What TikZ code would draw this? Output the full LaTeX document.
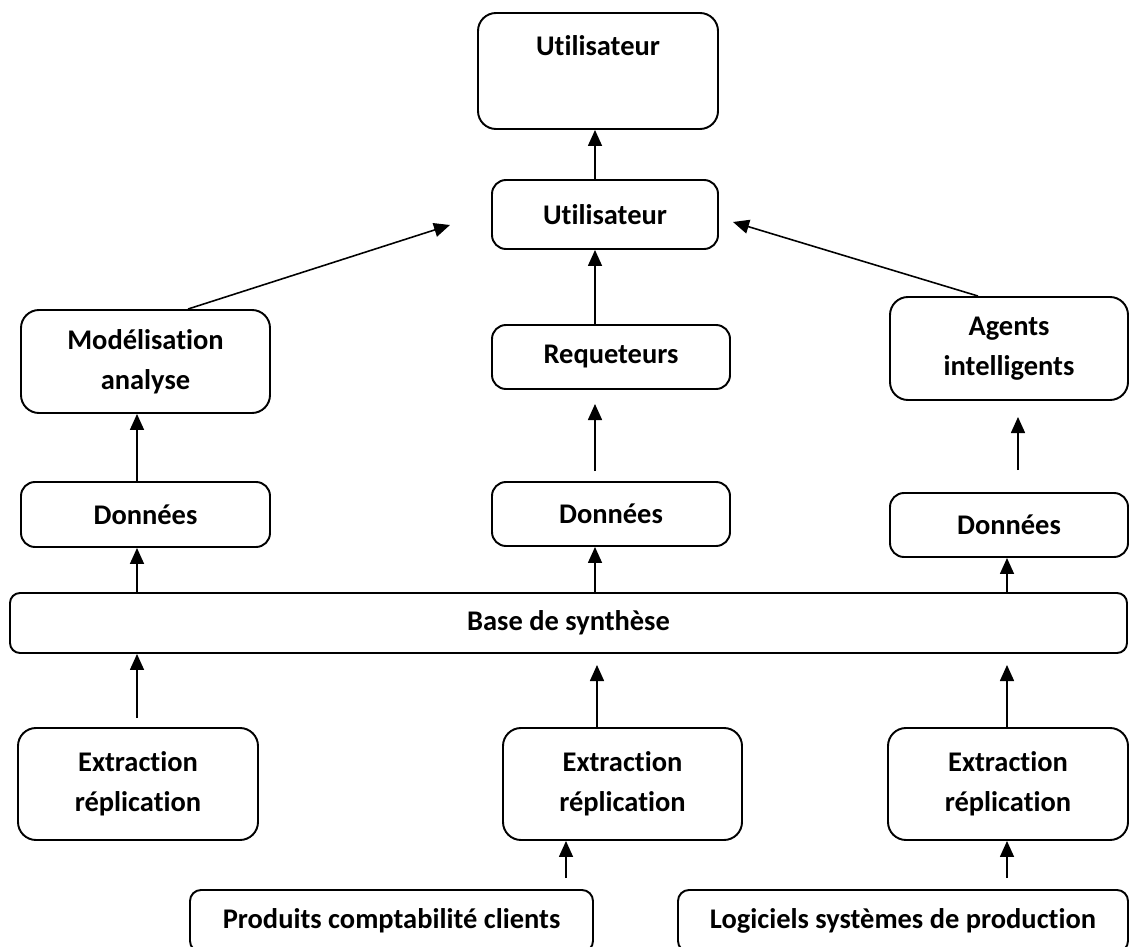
\documentclass[tikz,border=0pt]{standalone}
\usepackage{fontspec}
\setmainfont{Carlito}[Ligatures=NoCommon]
\usetikzlibrary{arrows.meta}

\begin{document}
\begin{tikzpicture}[
		box/.style={draw, line width=1.1pt, rounded corners=0.28cm, align=center, inner sep=0pt, font=\bfseries\fontsize{16.2}{22.8}\selectfont},
		bigbox/.style={box, rounded corners=0.36cm},
		arr/.style={line width=0.9pt, -{Triangle[width=0.28cm,length=0.32cm]}}
	]
			%%%%% START %%%%%
			
			\useasboundingbox (0,0) rectangle (22.68,-18.94);
			\clip (0,0) rectangle (22.68,-18.94);
			
			\node[bigbox, minimum width=4.8cm, minimum height=2.32cm, text height=0.4cm, text depth=1.0cm] (user) at (11.96,-1.42) {Utilisateur};
			\node[box, minimum width=4.52cm, minimum height=1.38cm] (util) at (12.1,-4.29) {Utilisateur};
			
			\node[bigbox, minimum width=4.98cm, minimum height=2.06cm] (model) at (2.91,-7.23) {Modélisation\\analyse};
			\node[box, minimum width=4.76cm, minimum height=1.28cm] (req) at (12.22,-7.14) {Requeteurs};
			\node[bigbox, minimum width=4.76cm, minimum height=2.06cm] (agents) at (20.18,-6.97) {Agents\\intelligents};
			
			\node[box, minimum width=4.98cm, minimum height=1.3cm] (donL) at (2.91,-10.29) {Données};
			\node[box, minimum width=4.76cm, minimum height=1.28cm] (donM) at (12.22,-10.28) {Données};
			\node[box, minimum width=4.76cm, minimum height=1.28cm] (donR) at (20.18,-10.5) {Données};
			
			\node[box, rounded corners=0.2cm, minimum width=22.34cm, minimum height=1.2cm] (base) at (11.37,-12.46) {Base de synthèse};
			
			\node[bigbox, minimum width=4.8cm, minimum height=2.24cm] (extL) at (2.76,-15.68) {Extraction\\réplication};
			\node[bigbox, minimum width=4.78cm, minimum height=2.24cm] (extM) at (12.45,-15.68) {Extraction\\réplication};
			\node[bigbox, minimum width=4.8cm, minimum height=2.24cm] (extR) at (20.16,-15.68) {Extraction\\réplication};
			
			\node[box, rounded corners=0.22cm, minimum width=8.06cm, minimum height=1.24cm] (prod) at (7.83,-18.42) {Produits comptabilité clients};
			\node[box, rounded corners=0.22cm, minimum width=9.0cm, minimum height=1.24cm] (logi) at (18.06,-18.42) {Logiciels systèmes de production};
			
			% arrow columns and loose ends
			\coordinate (colL) at (2.74,0);
			\coordinate (colM) at (11.9,0);
			\coordinate (colR) at (20.14,0);
			\coordinate (tipL) at (9.0,-4.5);
			\coordinate (tipR) at (14.66,-4.44);
			\coordinate (midLow) at (11.9,-9.42);
			\coordinate (midUp) at (11.9,-8.08);
			\coordinate (agLow) at (20.36,-9.4);
			\coordinate (agUp) at (20.36,-8.34);
			\coordinate (extLtop) at (2.74,-14.36);
			\coordinate (extMtip) at (11.94,-13.3);
			\coordinate (extRtip) at (20.14,-13.3);
			\coordinate (prodTop) at (11.32,-17.56);
			\coordinate (logiTop) at (20.14,-17.56);
			
			\draw[arr] (colM |- util.north) -- (colM |- user.south);
			\draw[arr] ([xshift=0.85cm]model.north) -- (tipL);
			\draw[arr] ([xshift=-0.62cm]agents.north) -- (tipR);
			\draw[arr] (colM |- req.north) -- (colM |- util.south);
			
			\draw[arr] (colL |- donL.north) -- (colL |- model.south);
			\draw[arr] (midLow) -- (midUp);
			\draw[arr] (agLow) -- (agUp);
			
			\draw[arr] (colL |- base.north) -- (colL |- donL.south);
			\draw[arr] (colM |- base.north) -- (colM |- donM.south);
			\draw[arr] (colR |- base.north) -- (colR |- donR.south);
			
			\draw[arr] (extLtop) -- (colL |- base.south);
			\draw[arr] (extMtip |- extM.north) -- (extMtip);
			\draw[arr] (extRtip |- extR.north) -- (extRtip);
			
			\draw[arr] (prodTop) -- (prodTop |- extM.south);
			\draw[arr] (logiTop) -- (logiTop |- extR.south);
			
			%%%%% END %%%%%
\end{tikzpicture}
\end{document}
